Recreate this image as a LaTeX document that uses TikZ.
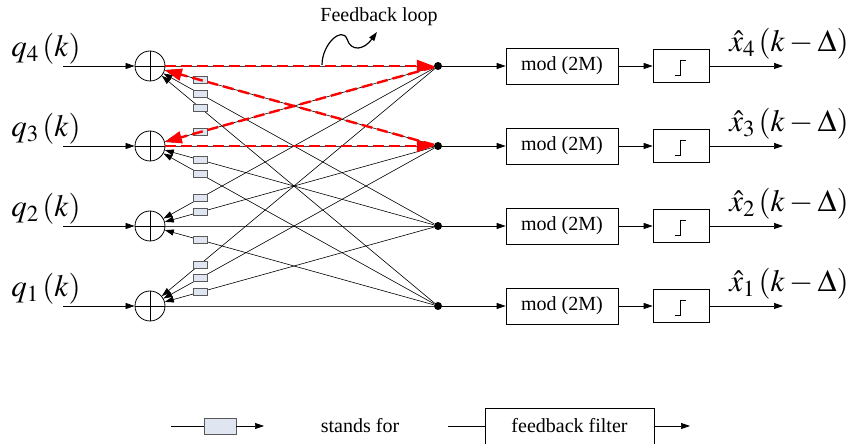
\documentclass[tikz,border=0pt]{standalone}
\usepackage{mathptmx}
\usepackage{fontspec}
\setmainfont{Liberation Serif}
\usetikzlibrary{calc,arrows.meta}
\definecolor{fbfill}{RGB}{223,230,242}

\tikzset{
	arr/.style={-{Triangle[length=9pt,width=6pt]}, line width=0.7pt},
	redarr/.style={-{Triangle[length=17pt,width=12pt]}, red, line width=2.4pt, dash pattern=on 11pt off 5pt},
	rowline/.style={line width=0.8pt, black!75},
	fbline/.style={-{Triangle[length=9pt,width=6pt]}, line width=0.6pt},
	sumnode/.style={circle, draw, line width=0.8pt, minimum size=30pt, inner sep=0pt,
		path picture={\draw[line width=0.6pt] (path picture bounding box.north) -- (path picture bounding box.south)
			(path picture bounding box.west) -- (path picture bounding box.east);}},
	dotnode/.style={circle, fill, minimum size=8pt, inner sep=0pt},
	fbbox/.style={draw=black!65, fill=fbfill, line width=0.6pt, minimum width=14pt, minimum height=7pt, inner sep=0pt},
	modbox/.style={draw, line width=0.7pt, minimum width=112pt, minimum height=36pt, inner sep=0pt},
	qbox/.style={draw, line width=0.7pt, minimum width=56pt, minimum height=33pt, inner sep=0pt},
	lab/.style={font=\fontsize{31}{34}\selectfont, inner sep=0pt, anchor=base},
}

\begin{document}
\begin{tikzpicture}[x=1pt, y=1pt, font=\fontsize{20}{24}\selectfont]
	%%%%% START %%%%%
	\useasboundingbox (0,0) rectangle (855,444);
	
	% four channels
	\foreach \i [evaluate=\i as \yy using int(58+80*\i)] in {1,...,4}{
		\node[sumnode] (s\i) at (150,\yy) {};
		\node[dotnode] (d\i) at (438,\yy) {};
		\node[modbox] (m\i) at (562,\yy) {mod (2M)};
		\node[qbox] (q\i) at (681,\yy) {};
		\draw[line width=0.8pt] ([shift={(-6,-9)}]q\i.center) -- ++(5,0) -- ++(0,15) -- ++(6,0);
		\coordinate (in\i) at (63,\yy);
		\coordinate (out\i) at (783,\yy);
		
		\draw[arr] (in\i) -- (s\i);
		\draw[rowline] (s\i) -- (d\i);
		\draw[arr] (d\i) -- (m\i);
		\draw[arr] (m\i) -- (q\i);
		\draw[arr] (q\i) -- (out\i);
		
		\node[lab] (ql\i) at (46,\yy+9) {$q_{\i}\,(k)$};
		\node[lab] (xl\i) at (789,\yy+14) {$\hat{x}_{\i}\,(k-\Delta)$};
	}
	
	% feedback filters between the channels
	\foreach \j in {1,...,4}{
		\foreach \i in {1,...,4}{
			\ifnum\i=\j\else
				\draw[fbline] (d\j) -- (s\i);
				\node[fbbox] (b\j\i) at ($(s\i.center)!0.1736!(d\j.center)$) {};
			\fi
		}
	}
	
	% feedback loop
	\draw[redarr] (s4) -- (d4);
	\draw[redarr] (d4) -- (s3);
	\draw[redarr] (s3) -- (d3);
	\draw[redarr] (d3) -- (s4);
	
	\coordinate (fl) at (322,379);
	\coordinate (fr) at (377,412);
	\draw[arr, line width=1.2pt] (fl) .. controls (322,400) and (342,418) .. (347,405)
		.. controls (351,392) and (364,394) .. (fr);
	\node (flt) at (379,427) {Feedback loop};
	
	% legend
	\coordinate (la) at (171,18);
	\node[fbbox, minimum width=32pt, minimum height=16pt] (lb) at (220,18) {};
	\coordinate (lc) at (264,18);
	\node (st) at (360,18) {stands for};
	\coordinate (ld) at (448,18);
	\node[draw, line width=0.7pt, minimum width=169pt, minimum height=40pt] (ff) at (569.5,16) {};
	\node (fft) at (569.5,18) {feedback filter};
	\coordinate (le) at (690,18);
	\draw[line width=0.7pt] (la) -- (lb);
	\draw[arr] (lb) -- (lc);
	\draw[line width=0.7pt] (ld) -- (ff.west |- ld);
	\draw[arr] (ff.east |- le) -- (le);
	
	%%%%% END %%%%%
\end{tikzpicture}
\end{document}
